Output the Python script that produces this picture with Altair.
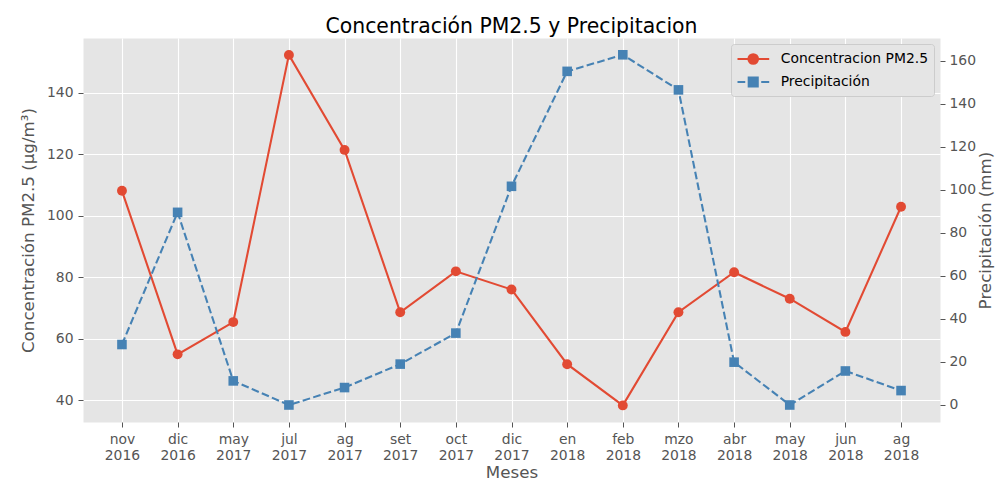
import altair as alt
import pandas as pd

# ---- data ----
meses = ["nov 2016", "dic 2016", "may 2017", "jul 2017", "ag 2017", "set 2017",
         "oct 2017", "dic 2017", "en 2018", "feb 2018", "mzo 2018", "abr 2018",
         "may 2018", "jun 2018", "ag 2018"]
pm25 = [108.1, 54.9, 65.4, 152.3, 121.4, 68.6, 81.9, 76.0, 51.7, 38.3,
        68.6, 81.6, 73.0, 62.2, 102.9]
precip = [28.1, 89.5, 11.2, 0.0, 8.1, 19.0, 33.4, 101.6, 155.0, 162.7,
          146.4, 19.9, 0.0, 15.8, 6.7]
series = ["Concentracion PM2.5", "Precipitación"]
left_ticks = [40, 60, 80, 100, 120, 140]
right_ticks = [0, 20, 40, 60, 80, 100, 120, 140, 160]

df = pd.DataFrame({"mes": meses, "pm25": pm25, "precip": precip})
legend_df = pd.DataFrame({"serie": series})

RED = "#E24A33"
BLUE = "#4682B4"
BG = "#E5E5E5"
FONT = "DejaVu Sans"
LW = 2.08

x = alt.X("mes:N", sort=meses,
          scale=alt.Scale(type="point", padding=0.7),
          axis=alt.Axis(title="Meses", labelAngle=0, grid=True,
                        labelExpr="split(datum.label, ' ')",
                        labelLineHeight=16, labelPadding=5,
                        titlePadding=3))

y_left = alt.Y("pm25:Q",
               scale=alt.Scale(domain=[32.9, 157.8], nice=False, zero=False),
               axis=alt.Axis(title="Concentración PM2.5 (µg/m³)", orient="left",
                             values=left_ticks, grid=True, labelPadding=5,
                             titlePadding=9))
y_right = alt.Y("precip:Q",
                scale=alt.Scale(domain=[-7.9, 170.5], nice=False, zero=False),
                axis=alt.Axis(title="Precipitación (mm)", orient="right",
                              values=right_ticks, grid=False, titleAngle=270,
                              titleBaseline="top", labelPadding=4,
                              titlePadding=2))

base = alt.Chart(df)

red = alt.layer(
    base.mark_line(color=RED, strokeWidth=LW).encode(x=x, y=y_left),
    base.mark_point(color=RED, filled=True, shape="circle", size=98, opacity=1).encode(x=x, y=y_left),
)
blue = alt.layer(
    base.mark_line(color=BLUE, strokeWidth=LW, strokeDash=[7.7, 3.3]).encode(x=x, y=y_right),
    base.mark_point(color=BLUE, filled=True, shape="square", size=92, opacity=1).encode(x=x, y=y_right),
)

# legend handles: line + marker, as symbol paths (unit = sqrt(symbolSize)/2 px)
circle_path = "M-1,0H2.73M1.415,0A0.565,0.565,0,1,1,0.285,0A0.565,0.565,0,1,1,1.415,0Z"
square_path = "M-1,0H-0.09M1.79,0H2.73M0.32,-0.53H1.38V0.53H0.32Z"

leg = alt.Chart(legend_df).transform_filter("false").mark_point(
    filled=True, opacity=1, strokeWidth=LW
).encode(
    fill=alt.Fill("serie:N", scale=alt.Scale(domain=series, range=[RED, BLUE]), title=None),
    stroke=alt.Stroke("serie:N", scale=alt.Scale(domain=series, range=[RED, BLUE]), title=None),
    shape=alt.Shape("serie:N", scale=alt.Scale(domain=series, range=[circle_path, square_path]), title=None),
)

chart = alt.layer(red, blue, leg).resolve_scale(y="independent").properties(
    width=857, height=384,
    view=alt.ViewBackground(fill=BG, stroke="transparent"),
    autosize=alt.AutoSizeParams(type="none"),
    padding={"left": 75, "top": 30, "right": 55, "bottom": 64},
    title=alt.TitleParams("Concentración PM2.5 y Precipitacion", anchor="middle", offset=1),
).configure_view(
    fill=BG, stroke="transparent"
).configure_axis(
    labelFont=FONT, labelFontSize=13.9, labelColor="#555555",
    tickColor="#555555", tickSize=5, tickWidth=1, domain=False,
    gridColor="white", gridWidth=1.1, gridOpacity=1,
    titleFont=FONT, titleFontSize=16.7, titleColor="#555555", titleFontWeight="normal",
).configure_title(
    font=FONT, fontSize=20.4, fontWeight="normal", color="black"
).configure_legend(
    orient="top-right", offset=6, fillColor=BG, strokeColor="#CCCCCC",
    padding=5, cornerRadius=3, symbolSize=289, symbolStrokeWidth=LW,
    labelFont=FONT, labelFontSize=13.9, labelColor="black", rowPadding=4,
    labelOffset=24.7,
)

chart.save("out.html", embed_options={"renderer": "svg", "actions": False})
